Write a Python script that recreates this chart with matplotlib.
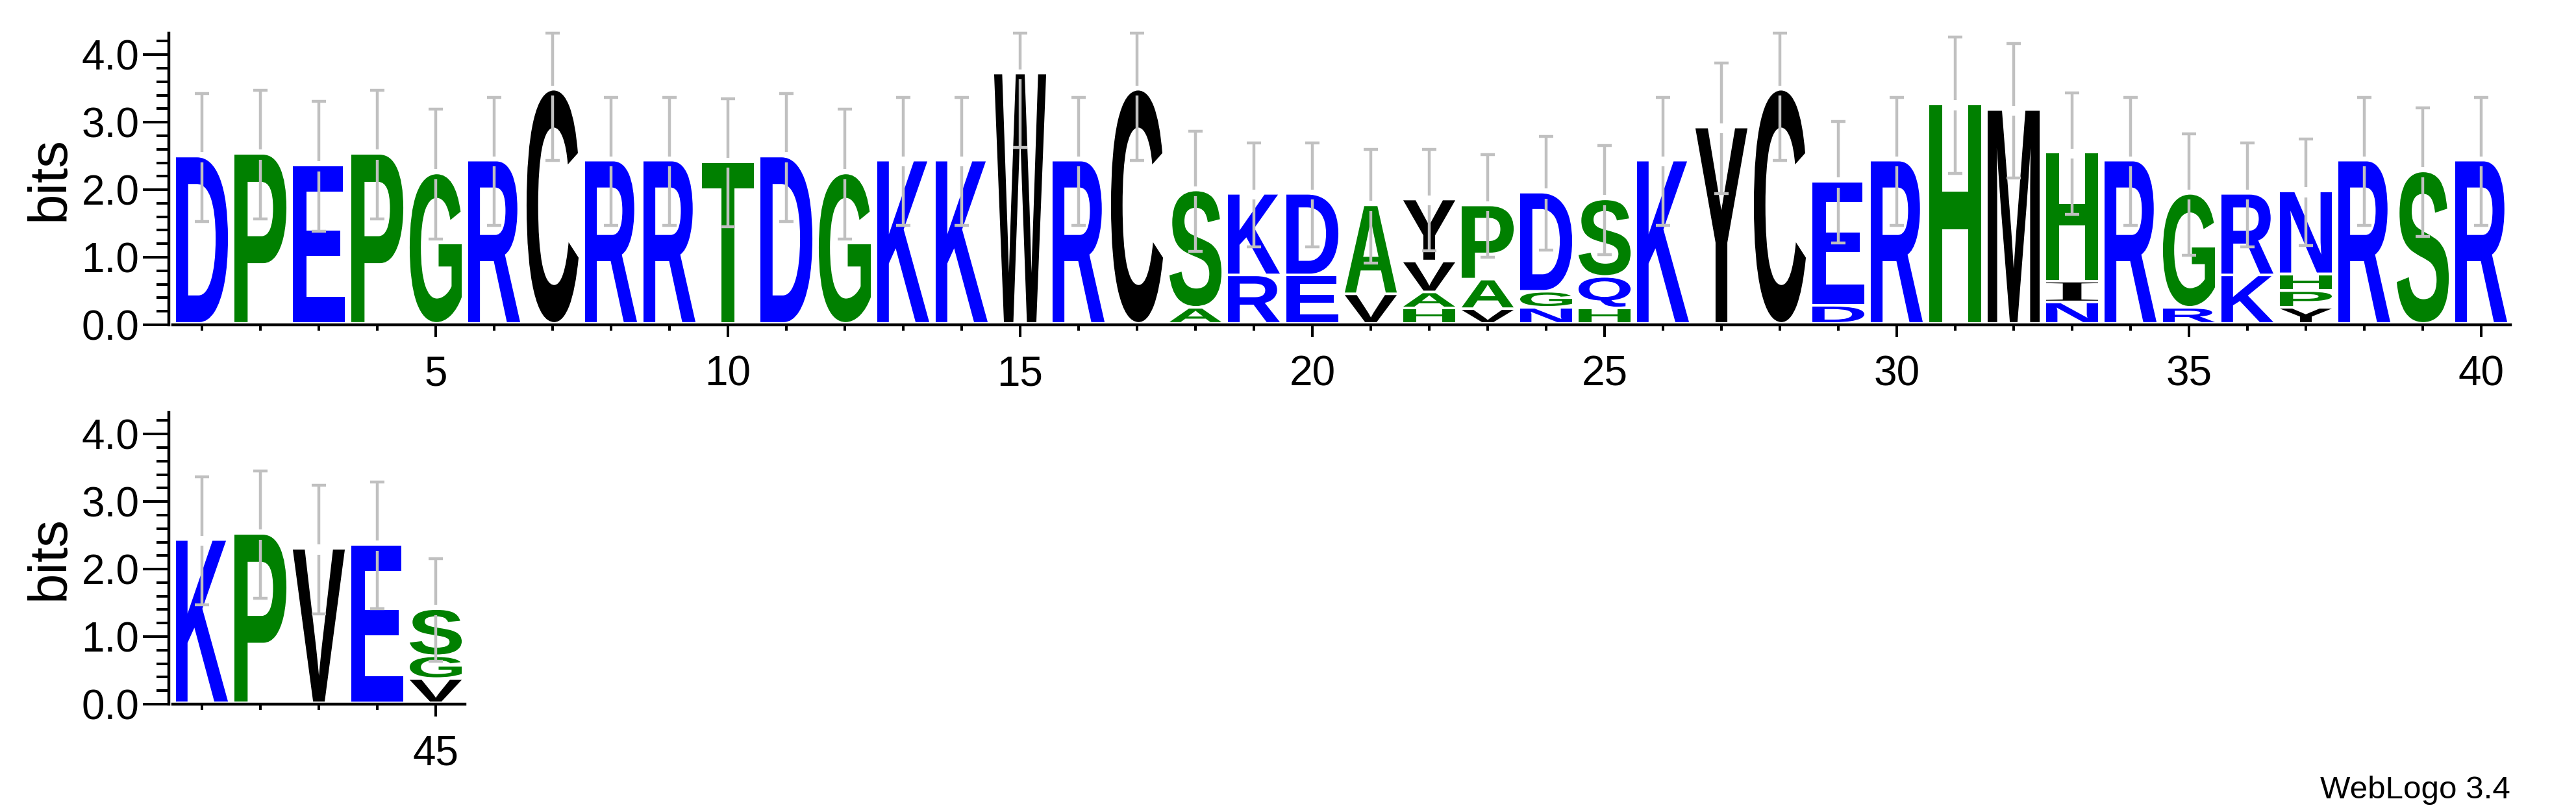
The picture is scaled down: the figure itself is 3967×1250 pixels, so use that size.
import matplotlib
matplotlib.use("Agg")
import matplotlib.pyplot as plt
from matplotlib.textpath import TextPath
from matplotlib.patches import PathPatch
from matplotlib.font_manager import FontProperties
import matplotlib.transforms as mtransforms
from matplotlib.ticker import MultipleLocator, FixedLocator

plt.rcParams['font.family'] = ['Liberation Sans', 'DejaVu Sans']

# ---------------- data ----------------
positions = list(range(1, 46))
# letters of each stack, listed top to bottom
stack_letters = [
    "D", "P", "E", "P", "G", "R", "C", "R", "R", "T",
    "D", "G", "K", "K", "W", "R", "C", "SA", "KR", "DE",
    "AV", "YVAH", "PAV", "DGN", "SQH", "K", "Y", "C", "ED", "R",
    "H", "M", "HIN", "R", "GR", "RK", "NHPY", "R", "S", "R",
    "K", "P", "V", "E", "SGV"]
# heights in bits, same order as the letters
stack_heights = [
    [2.44], [2.48], [2.31], [2.48], [2.19], [2.38], [3.43], [2.38], [2.38], [2.36],
    [2.44], [2.19], [2.38], [2.38], [3.67], [2.38], [3.43], [1.70, 0.20], [1.17, 0.68], [1.17, 0.68],
    [1.28, 0.40], [0.88, 0.42, 0.20, 0.19], [1.06, 0.40, 0.18], [1.43, 0.20, 0.20], [1.11, 0.43, 0.19],
    [2.38], [2.87], [3.43], [1.80, 0.23], [2.38],
    [3.21], [3.13], [1.87, 0.27, 0.28], [2.38], [1.65, 0.20], [1.17, 0.68], [1.19, 0.21, 0.21, 0.20],
    [2.38], [2.22], [2.38],
    [2.38], [2.47], [2.25], [2.31], [0.66, 0.30, 0.32]]
# half length of the error bars (bits)
error_half = [
    0.95, 0.95, 0.96, 0.95, 0.96, 0.95, 1.04, 0.95, 0.95, 0.95,
    0.95, 0.96, 0.95, 0.95, 1.08, 0.95, 1.04, 0.89, 0.77, 0.77,
    0.84, 0.75, 0.76, 0.84, 0.81, 0.95, 0.97, 1.04, 0.90, 0.95,
    1.01, 1.00, 0.90, 0.95, 0.90, 0.77, 0.79, 0.95, 0.95, 0.95,
    0.95, 0.94, 0.95, 0.94, 0.76]
max_bits = 4.32
y_major = [0.0, 1.0, 2.0, 3.0, 4.0]
y_major_labels = ["0.0", "1.0", "2.0", "3.0", "4.0"]

BLUE, GREEN, BLACK = "#0000FF", "#008000", "#000000"
letter_colors = {}
for c in "DERKNQ":
    letter_colors[c] = BLUE
for c in "PGTSAH":
    letter_colors[c] = GREEN
for c in "CWVYMI":
    letter_colors[c] = BLACK

ERR_COLOR = "#C0C0C0"

fp_sans = FontProperties(family="Liberation Sans", weight="bold")
fp_serif = FontProperties(family="Liberation Serif", weight="normal")


def draw_letter(ax, ch, xc, y0, w, h, color):
    prop = fp_serif if ch == "I" else fp_sans
    tp = TextPath((0, 0), ch, size=1, prop=prop)
    bb = tp.get_extents()
    t = (mtransforms.Affine2D()
         .translate(-bb.x0, -bb.y0)
         .scale(w / bb.width, h / bb.height)
         .translate(xc - w / 2.0, y0))
    ax.add_patch(PathPatch(t.transform_path(tp), facecolor=color,
                           edgecolor="none", lw=0))


W, H = 3967, 1250
fig = plt.figure(figsize=(W / 100, H / 100), dpi=100)

ax_top = fig.add_axes([266 / W, 1 - 500 / H, 3600 / W, 449 / H])
ax_bot = fig.add_axes([266 / W, 1 - 1084 / H, 450 / W, 449 / H])

LW = 3.2
base = 0.04
gap = 0.038
letter_w = 0.89
bar_gap = 0.075
cap_half = 0.117

for ax, (lo, hi) in ((ax_top, (1, 40)), (ax_bot, (41, 45))):
    ax.set_xlim(lo - 0.5, hi + 0.5)
    ax.set_ylim(0, max_bits)
    for i, pos in enumerate(positions):
        if pos < lo or pos > hi:
            continue
        letters = stack_letters[i]
        heights = stack_heights[i]
        y = base
        for ch, h in zip(reversed(letters), reversed(heights)):
            draw_letter(ax, ch, pos, y, letter_w, h, letter_colors[ch])
            y += h + gap
        top = y - gap
        e = error_half[i]
        upper = min(top + e, max_bits)
        lower = top - e
        kw = dict(color=ERR_COLOR, lw=LW, clip_on=False, zorder=5)
        ax.vlines(pos, top + bar_gap, upper, **kw)
        ax.vlines(pos, lower, top - bar_gap, **kw)
        ax.hlines([upper, lower], pos - cap_half, pos + cap_half, **kw)

    for s in ("top", "right"):
        ax.spines[s].set_visible(False)
    ax.spines["left"].set_position(("outward", 4))
    ax.spines["left"].set_linewidth(LW)
    ax.spines["bottom"].set_linewidth(LW)

    ax.yaxis.set_major_locator(FixedLocator(y_major))
    ax.set_yticklabels(y_major_labels)
    ax.yaxis.set_minor_locator(MultipleLocator(0.2))
    ax.tick_params(axis="y", which="major", direction="out", length=28.8,
                   width=2.9, labelsize=46, pad=4.3)
    ax.tick_params(axis="y", which="minor", direction="out", length=13.7,
                   width=2.9)

    major_x = [p for p in positions if lo <= p <= hi and p % 5 == 0]
    minor_x = [p for p in positions if lo <= p <= hi and p % 5 != 0]
    ax.xaxis.set_major_locator(FixedLocator(major_x))
    ax.set_xticklabels([str(p) for p in major_x])
    ax.xaxis.set_minor_locator(FixedLocator(minor_x))
    ax.tick_params(axis="x", which="major", direction="out", length=13.7,
                   width=2.9, labelsize=46, pad=20)
    ax.tick_params(axis="x", which="minor", direction="out", length=6.5,
                   width=2.9)
    ax.set_ylabel("bits", fontsize=60)

ax_top.yaxis.set_label_coords((116 - 266) / 3600, 0.5)
ax_bot.yaxis.set_label_coords((116 - 266) / 450, 0.5)

fig.text(3866 / W, 1 - 1229 / H, "WebLogo 3.4", ha="right", va="baseline",
         fontsize=35.5)

fig.savefig("out.png", dpi=100, facecolor="white")
